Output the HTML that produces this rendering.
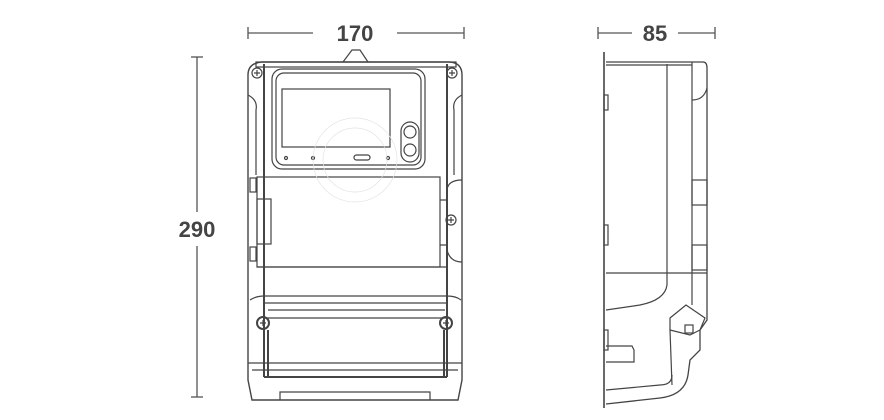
<!DOCTYPE html>
<html><head><meta charset="utf-8"><style>
html,body{margin:0;padding:0;background:#fff;width:884px;height:420px;overflow:hidden}
svg{display:block}
text{font-family:"Liberation Sans",sans-serif;font-weight:bold;fill:#444;font-size:22px}
</style></head><body>
<svg width="884" height="420" viewBox="0 0 884 420" fill="none" stroke="#444" stroke-width="1.2">
<g stroke="#555" stroke-width="1.3">
<line x1="248" y1="33" x2="313" y2="33"/><line x1="397" y1="33" x2="464" y2="33"/>
<line x1="248" y1="27" x2="248" y2="39"/><line x1="464" y1="27" x2="464" y2="39"/>
<line x1="598" y1="33" x2="632" y2="33"/><line x1="678" y1="33" x2="715" y2="33"/>
<line x1="598" y1="27" x2="598" y2="39"/><line x1="715" y1="27" x2="715" y2="39"/>
<line x1="197" y1="57" x2="197" y2="212"/><line x1="197" y1="246" x2="197" y2="397"/>
<line x1="191" y1="57" x2="203" y2="57"/><line x1="191" y1="397" x2="203" y2="397"/>
</g>
<text x="355" y="41" text-anchor="middle" stroke="none">170</text>
<text x="655" y="41" text-anchor="middle" stroke="none">85</text>
<text x="197" y="237" text-anchor="middle" stroke="none">290</text>
<path d="M343 62 L352 50 L360 50 L368 62"/>
<path d="M252 400 L248 380 L248 75 Q248 63 262 62 L450 62 Q462 63 462 75 L462 380 L458 400 Z" stroke-width="1.4"/>
<rect x="256" y="62" width="200" height="5"/>
<line x1="264" y1="64" x2="264" y2="377" stroke-width="2"/>
<line x1="447" y1="64" x2="447" y2="377" stroke-width="2"/>
<path d="M248 95 Q258 100 256 110 L256 175"/><path d="M462 95 Q452 100 454 110 L454 175"/>
<rect x="272" y="69" width="153" height="100" rx="10"/>
<rect x="276" y="73" width="145" height="92" rx="8"/>
<rect x="282" y="89" width="108" height="58"/>
<rect x="401" y="122" width="18" height="40" rx="9"/>
<circle cx="410" cy="132" r="6"/><circle cx="410" cy="150" r="6"/>
<circle cx="286" cy="158" r="1.5"/><circle cx="313" cy="158" r="1.5"/><circle cx="388" cy="158" r="1.5"/>
<rect x="354" y="155" width="16" height="5" rx="2.5"/>
<rect x="257" y="177" width="183" height="90"/>
<line x1="257" y1="267" x2="447" y2="267"/>
<rect x="250" y="178" width="6" height="14"/><rect x="250" y="247" width="6" height="14"/>
<rect x="257" y="199" width="14" height="45"/>
<path d="M440 200 L447 200 M440 245 L447 245"/>
<path d="M447 190 Q448 180 462 180 M447 250 Q450 262 462 262"/>
<path d="M250 300 Q256 296 264 296 L447 296 Q456 296 461 300"/>
<line x1="264" y1="303" x2="447" y2="303"/><line x1="268" y1="310" x2="445" y2="310"/>
<line x1="264" y1="318" x2="447" y2="318"/>
<line x1="248" y1="363" x2="462" y2="363"/><line x1="252" y1="370" x2="458" y2="370"/>
<line x1="264" y1="377" x2="447" y2="377" stroke-width="2"/>
<path d="M280 400 L280 392 L430 392 L430 400"/>
<line x1="268" y1="330" x2="268" y2="377" stroke-width="2"/>
<line x1="444" y1="330" x2="444" y2="377" stroke-width="2"/>
<g>
<circle cx="257" cy="73" r="5"/><circle cx="452" cy="73" r="5"/>
<circle cx="451" cy="220" r="5"/>
<circle cx="263" cy="323" r="6" stroke-width="2"/><circle cx="446" cy="323" r="6" stroke-width="2"/>
<path d="M254 73h6M257 70v6M449 73h6M452 70v6M448 220h6M451 217v6M260 323h6M263 320v6M443 323h6M446 320v6"/>
</g>
<g stroke="#e4e4e4" stroke-width="0.7"><circle cx="355" cy="160" r="42"/><circle cx="355" cy="160" r="32"/></g>
<line x1="604" y1="52" x2="604" y2="408" stroke-width="1.6"/>
<path d="M606 62 L703 62 Q707 62 707 68 L707 320 L700 330 L700 350 L690 360 L688 375 Q685 395 660 398 L606 404" stroke-width="1.3"/>
<line x1="606" y1="65" x2="692" y2="65"/>
<line x1="667" y1="64" x2="667" y2="285"/>
<path d="M667 285 Q665 300 640 305 L606 310"/>
<line x1="692" y1="62" x2="692" y2="305"/>
<path d="M692 100 Q704 100 707 88"/>
<rect x="692" y="180" width="15" height="25"/><rect x="692" y="245" width="15" height="25"/>
<line x1="606" y1="273" x2="707" y2="273"/>
<rect x="604" y="95" width="4" height="15"/><rect x="604" y="225" width="4" height="20"/><rect x="604" y="330" width="4" height="20"/>
<path d="M606 346 L632 346 L634 350 L634 362 L606 362"/>
<path d="M670 318 L686 305 L705 318 L700 330 L690 335 L670 330 Z"/>
<rect x="685" y="325" width="8" height="8"/>
<line x1="670" y1="330" x2="672" y2="385"/>
<path d="M606 390 L660 385 Q672 385 672 375"/>
</svg>
</body></html>
